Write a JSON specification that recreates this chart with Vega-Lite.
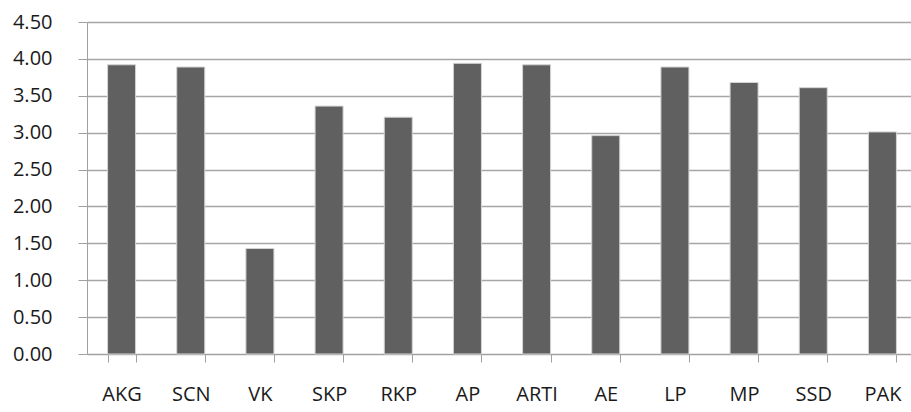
{
  "$schema": "https://vega.github.io/schema/vega-lite/v6.json",
  "autosize": "none",
  "padding": {"left": 87, "top": 22, "right": 0, "bottom": 58},
  "width": 824,
  "height": 332,
  "background": "white",
  "data": {
    "values": [
      {"name": "AKG", "score": 3.92},
      {"name": "SCN", "score": 3.89},
      {"name": "VK", "score": 1.43},
      {"name": "SKP", "score": 3.36},
      {"name": "RKP", "score": 3.21},
      {"name": "AP", "score": 3.94},
      {"name": "ARTI", "score": 3.92},
      {"name": "AE", "score": 2.96},
      {"name": "LP", "score": 3.89},
      {"name": "MP", "score": 3.68},
      {"name": "SSD", "score": 3.61},
      {"name": "PAK", "score": 3.01}
    ]
  },
  "mark": {"type": "bar", "color": "#606060", "stroke": "#d4d4d4", "strokeWidth": 1},
  "encoding": {
    "x": {
      "field": "name",
      "type": "nominal",
      "sort": null,
      "scale": {"range": [0, 830], "paddingInner": 0.595, "paddingOuter": 0.2975},
      "axis": {
        "title": null,
        "labelAngle": 0,
        "tickBand": "extent",
        "tickSize": 8,
        "tickColor": "#a0a0a0",
        "domainColor": "#a0a0a0",
        "labelFont": "Open Sans",
        "labelFontSize": 20,
        "labelColor": "#1a1a1a",
        "labelPadding": 22
      }
    },
    "y": {
      "field": "score",
      "type": "quantitative",
      "scale": {"domain": [0, 4.5], "nice": false},
      "axis": {
        "title": null,
        "values": [0, 0.5, 1, 1.5, 2, 2.5, 3, 3.5, 4, 4.5],
        "format": ".2f",
        "tickSize": 9,
        "tickColor": "#a0a0a0",
        "domainColor": "#a0a0a0",
        "gridColor": "#a6a6a6",
        "gridWidth": 1.3,
        "labelFont": "Open Sans",
        "labelFontSize": 20,
        "labelColor": "#1a1a1a",
        "labelPadding": 26
      }
    }
  },
  "config": {"view": {"stroke": null}}
}
